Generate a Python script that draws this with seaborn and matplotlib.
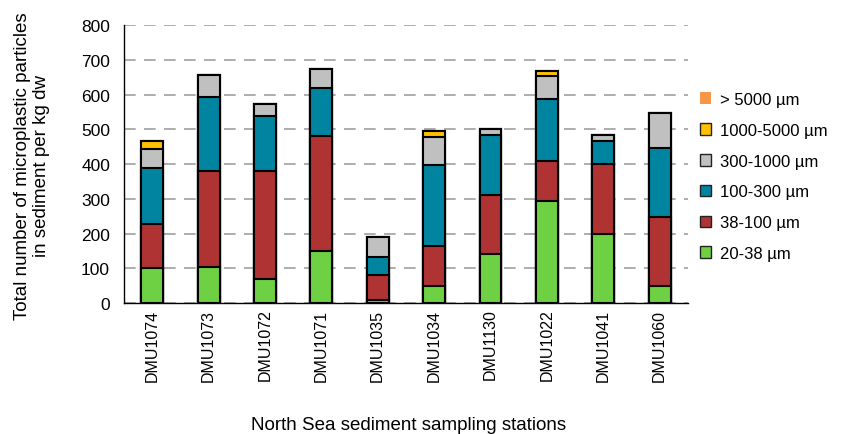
import numpy as np
import pandas as pd
import matplotlib.pyplot as plt
import seaborn as sns
from matplotlib.patches import Patch

# stations on x axis
stations = ['DMU1074', 'DMU1073', 'DMU1072', 'DMU1071', 'DMU1035',
            'DMU1034', 'DMU1130', 'DMU1022', 'DMU1041', 'DMU1060']

# particle counts per size class
s20_38 = [100, 104, 68, 151, 8, 48, 140, 293, 200, 48]
s38_100 = [127, 277, 313, 330, 73, 117, 172, 115, 200, 199]
s100_300 = [162, 213, 157, 137, 51, 231, 173, 180, 67, 199]
s300_1000 = [53, 63, 35, 55, 58, 83, 16, 65, 18, 101]
s1000_5000 = [25, 0, 0, 0, 0, 17, 0, 16, 0, 0]
s5000 = [0, 0, 0, 0, 0, 0, 0, 0, 0, 0]

size_labels = ['20-38 µm', '38-100 µm', '100-300 µm', '300-1000 µm',
               '1000-5000 µm', '> 5000 µm']
colors = ['#6dd143', '#b03333', '#00849f', '#c0c0c0', '#ffc000', '#f79646']

df = pd.DataFrame({'Station': stations,
                   size_labels[0]: s20_38, size_labels[1]: s38_100,
                   size_labels[2]: s100_300, size_labels[3]: s300_1000,
                   size_labels[4]: s1000_5000, size_labels[5]: s5000})
# cumulative totals for stacking
cum = df[size_labels].cumsum(axis=1)
cum['Station'] = stations

sns.set_style('white')
plt.rcParams['font.family'] = ['Liberation Sans', 'DejaVu Sans']
plt.rcParams['text.color'] = 'black'
plt.rcParams['xtick.color'] = 'black'
plt.rcParams['ytick.color'] = 'black'

fig = plt.figure(figsize=(8.43, 4.35), dpi=100)
ax = fig.add_axes([0.147, 0.301, 0.669, 0.639])

# draw tallest cumulative first, smaller ones on top
for lab, col in reversed(list(zip(size_labels, colors))):
    sns.barplot(data=cum, x='Station', y=lab, color=col, width=0.39,
                edgecolor='black', linewidth=1.5, saturation=1, ax=ax, zorder=3)

ax.set_ylim(0, 800)
ax.set_xlim(-0.5, 9.5)
ax.set_yticks(range(0, 801, 100))
ax.tick_params(axis='y', direction='inout', length=10, width=1, labelsize=12.5, pad=5)
ax.set_xticks(range(10))
ax.set_xticklabels(stations, rotation=90, fontsize=11.5)
ax.tick_params(axis='x', which='major', length=0, pad=4)
ax.set_xticks(np.arange(0.5, 9.6, 1), minor=True)
ax.tick_params(axis='x', which='minor', direction='out', length=5, width=1)
ax.set_xlabel('')
ax.set_ylabel('')

ax.yaxis.grid(True, color='#a0a0a0', linestyle=(0, (7, 5)), linewidth=1.2, zorder=0)
ax.set_axisbelow(True)
for s in ['top', 'right']:
    ax.spines[s].set_visible(False)
for s in ['left', 'bottom']:
    ax.spines[s].set_color('black')
    ax.spines[s].set_linewidth(1)

fig.text(0.038, 0.618, 'Total number of microplastic particles\nin sediment per kg dw',
         rotation=90, ha='center', va='center', multialignment='center', fontsize=13.5)
fig.text(0.485, 0.022, 'North Sea sediment sampling stations',
         ha='center', va='center', fontsize=13.5)

handles = []
for lab, col in reversed(list(zip(size_labels, colors))):
    ec = 'none' if lab == '> 5000 µm' else '#222222'
    handles.append(Patch(facecolor=col, edgecolor=ec, linewidth=1, label=lab))
fig.legend(handles=handles, loc='center left', bbox_to_anchor=(0.812, 0.592),
           frameon=False, fontsize=12, handlelength=0.7, handleheight=0.7,
           handletextpad=0.5, labelspacing=0.95)

plt.savefig('out.png', dpi=100)
